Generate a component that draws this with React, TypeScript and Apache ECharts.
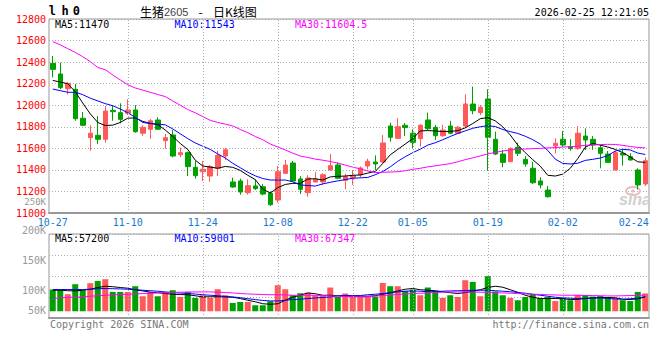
import React, { useEffect, useRef } from 'react';
import * as echarts from 'echarts';

const dates = [
  '10-27','10-28','10-29','10-30','10-31',
  '11-03','11-04','11-05','11-06','11-07','11-10','11-11','11-12','11-13','11-14',
  '11-17','11-18','11-19','11-20','11-21','11-24','11-25','11-26','11-27','11-28',
  '12-01','12-02','12-03','12-04','12-05','12-08','12-09','12-10','12-11','12-12',
  '12-15','12-16','12-17','12-18','12-19','12-22','12-23','12-24','12-25','12-26',
  '12-29','12-30','12-31',
  '01-05','01-06','01-07','01-08','01-09','01-12','01-13','01-14','01-15','01-16',
  '01-19','01-20','01-21','01-22','01-23','01-26','01-27','01-28','01-29','01-30',
  '02-02','02-03','02-04','02-05','02-06','02-09','02-10','02-11','02-12','02-13',
  '02-24','02-25'
];

const opens = [
  12389,12290,12153,12148,11879,11699,11721,11684,11953,11931,
  11925,11956,11740,11777,11863,11671,11724,11541,11560,11424,
  11383,11343,11415,11529,11288,11297,11189,11251,11244,11183,
  11121,11368,11464,11316,11189,11288,11288,11399,11445,11303,
  11328,11353,11436,11473,11473,11807,11693,11814,11740,11690,
  11863,11795,11717,11807,11740,11807,12011,11931,12058,11684,
  11547,11476,11609,11498,11415,11297,11213,11622,11684,11615,
  11600,11714,11684,11606,11547,11399,11554,11522,11399,11269
];
const closes = [
  12333,12163,12203,11875,11814,11740,11684,11946,11940,11869,
  11956,11754,11795,11856,11777,11699,11529,11560,11430,11346,
  11406,11430,11535,11587,11241,11195,11253,11226,11176,11077,
  11383,11445,11297,11220,11325,11313,11355,11439,11322,11337,
  11346,11418,11480,11455,11650,11702,11801,11792,11656,11814,
  11782,11717,11770,11740,11795,12011,11949,11981,11702,11547,
  11470,11600,11554,11455,11281,11260,11151,11647,11631,11597,
  11740,11677,11631,11554,11470,11560,11538,11492,11260,11485
];
const lows = [
  12259,12148,12101,11856,11807,11578,11640,11652,11856,11832,
  11909,11745,11717,11689,11770,11597,11517,11517,11343,11318,
  11297,11290,11343,11492,11235,11170,11170,11213,11164,11065,
  11096,11362,11288,11176,11151,11281,11260,11393,11313,11220,
  11260,11331,11406,11399,11461,11662,11687,11714,11603,11615,
  11770,11677,11708,11730,11733,11792,11916,11909,11393,11538,
  11424,11473,11529,11430,11269,11229,11142,11554,11615,11578,
  11585,11585,11585,11415,11467,11395,11439,11485,11220,11251
];
const highs = [
  12457,12395,12213,12197,11937,11814,11900,11993,12000,12018,
  12055,12002,11814,11872,11888,11733,11770,11606,11569,11483,
  11483,11445,11578,11603,11328,11318,11313,11313,11269,11201,
  11436,11492,11483,11343,11350,11380,11368,11547,11470,11365,
  11399,11433,11504,11535,11724,11838,11879,11835,11777,11826,
  11931,11817,11817,11854,11807,12101,12172,12000,12148,11754,
  11585,11606,11652,11529,11476,11331,11251,11693,11761,11684,
  11807,11786,11714,11631,11575,11578,11591,11554,11415,11517
];

const ma5 = [
  12230,12215,12200,12125,12020,11920,11840,11812,11815,11840,
  11880,11882,11850,11832,11820,11770,11710,11645,11590,11490,
  11436,11426,11415,11432,11424,11395,11350,11310,11222,11185,
  11235,11265,11275,11275,11315,11318,11306,11335,11340,11343,
  11350,11353,11370,11385,11460,11540,11590,11640,11690,11761,
  11765,11761,11756,11757,11764,11790,11830,11875,11885,11855,
  11800,11724,11630,11560,11495,11435,11350,11343,11360,11415,
  11505,11610,11645,11630,11612,11590,11560,11520,11475,11470
];
const ma10 = [
  12150,12135,12120,12120,12098,12065,12040,12015,11995,11965,
  11930,11888,11840,11830,11825,11818,11780,11735,11690,11650,
  11620,11590,11548,11510,11461,11420,11378,11345,11320,11306,
  11306,11306,11290,11260,11255,11250,11270,11285,11298,11310,
  11322,11326,11330,11355,11385,11428,11480,11522,11560,11592,
  11630,11652,11680,11710,11738,11762,11786,11800,11810,11802,
  11775,11755,11738,11712,11680,11640,11580,11500,11460,11455,
  11462,11488,11498,11510,11532,11575,11591,11585,11556,11543
];
const ma30 = [
  12590,12560,12525,12490,12450,12405,12350,12330,12280,12235,
  12190,12160,12140,12120,12100,12080,12040,12000,11960,11930,
  11895,11860,11840,11825,11808,11775,11745,11710,11680,11640,
  11612,11585,11555,11529,11515,11500,11490,11478,11462,11445,
  11425,11410,11390,11375,11378,11380,11383,11392,11405,11415,
  11428,11437,11448,11458,11475,11495,11512,11530,11548,11562,
  11575,11585,11590,11594,11597,11600,11604,11607,11612,11615,
  11620,11628,11632,11635,11637,11636,11628,11617,11608,11604.5
];

const volumes = [
  87200,87200,68300,108500,84400,112600,121800,128600,77600,77600,
  77600,100500,60300,76400,60300,77600,84400,57500,77600,53500,
  64300,53500,88400,64300,33400,37400,37400,24100,24100,40200,
  104500,88400,64300,72400,74400,64300,64300,95300,57500,71200,
  64300,57500,57500,57500,113800,100500,100500,81600,87200,64300,
  95300,81600,53500,64300,57500,124600,117800,60300,140700,79600,
  64300,53500,44200,57500,68300,53500,57500,41000,53500,44200,
  65500,65500,59100,61100,56300,52300,44200,41000,77600,71600
];
const volMa5 = [
  84400,84400,82400,81600,84400,88400,95300,100500,98500,95300,
  92500,86400,81600,76400,74400,71200,68300,67100,66300,62300,
  57500,58300,58300,57500,56300,51000,44200,38200,30200,28100,
  30200,44200,56300,64300,73600,70300,64300,64300,62300,60300,
  60300,60300,60300,62300,68300,74400,81600,88400,91300,86400,
  84400,82400,78400,74400,71200,75200,80400,86400,95300,100500,
  96500,86400,76400,64300,56300,51000,51000,51000,50300,47000,
  48200,51000,53100,55100,55100,54300,48200,47000,50300,57200
];
const volMa10 = [
  87200,87200,87200,87200,87200,88400,90500,91300,90500,89600,
  88400,86400,84400,82400,80400,77600,75200,73200,71200,69100,
  66300,64300,62300,59500,57500,54300,50300,47000,43400,41400,
  41400,44200,47000,48200,51000,53500,55100,57500,62300,63500,
  62300,63100,66300,68300,71200,74400,77600,80400,81600,80400,
  78400,78400,80400,81600,82400,83200,84400,84400,84400,82400,
  80400,78400,75200,72400,68300,64300,60300,56300,53500,52300,
  51000,52300,53100,53500,51500,49400,48200,50300,52300,59000
];
const volMa30 = [
  51000,54300,56300,56300,57500,60300,62300,64300,65500,67100,
  68300,69500,71200,72400,73600,74400,75200,76400,77200,77600,
  77600,77600,76400,75200,73600,71200,69500,68300,67100,66300,
  66300,65500,64300,64300,64300,64300,63100,61500,60300,59100,
  58300,57500,58300,60300,63100,65500,67100,69500,71200,72400,
  73600,75200,76400,77600,77600,77600,77200,76400,75600,74400,
  73600,72400,71200,69500,68300,67500,66300,65500,64300,64300,
  64300,63500,63100,62300,61500,61500,62300,63100,64000,65000
];

const labelDates = ['10-27','11-10','11-24','12-08','12-22','01-05','01-19','02-02','02-24'];
const gridDates = ['11-10','11-24','12-08','12-22','01-05','01-19','02-02'];
const volTickLabels = ['250K','200K','150K','100K','50K'];
const priceLegend = ['MA5:11470','MA10:11543','MA30:11604.5'];
const volLegend = ['MA5:57200','MA10:59001','MA30:67347'];
const titleName = '生猪';
const titleCode = '2605';
const titleKind = '日K线图';
const stamp = '2026-02-25 12:21:05';

const MONO = '"DejaVu Sans Mono", monospace';
const F10 = `10px ${MONO}`;
const RED = '#ff5a5a';
const GREEN = '#00a000';
const BLUE_AX = '#1a78cc';
const GRIDC = '#aaa';

function txt(x: number, y: number, text: string, fill: string, align = 'left', font = F10, extra: any = {}) {
  return {
    type: 'text', x, y, silent: true, z: 100,
    style: { text, fill, font, textAlign: align, align, textVerticalAlign: 'middle', verticalAlign: 'middle', ...extra },
  };
}

export default function App() {
  const ref = useRef<HTMLDivElement>(null);
  useEffect(() => {
    document.body.style.margin = '0';
    const chart = echarts.init(ref.current!, null, { renderer: 'svg' });
    const dotted = { color: GRIDC, type: [1, 2], width: 1 };
    const markLine = {
      silent: true, symbol: ['none', 'none'], label: { show: false }, animation: false,
      lineStyle: dotted, emphasis: { disabled: true },
      data: gridDates.map((d) => ({ xAxis: d })),
    };
    const legendX = [55, 174.5, 295];
    const legendC = ['#000', '#0000ff', '#ff00ff'];
    const volLabelY = [202, 230.7, 260.5, 290, 310.5];
    const volLabelFont = [`9px ${MONO}`, F10, F10, F10, F10];
    const option: any = {
      animation: false,
      textStyle: { fontFamily: MONO },
      grid: [
        { left: 49, top: 19, width: 600, height: 194, show: true, borderColor: '#999', borderWidth: 1 },
        { left: 49, top: 234, width: 600, height: 84, show: true, borderColor: '#999', borderWidth: 1 },
      ],
      xAxis: [
        {
          type: 'category', gridIndex: 0, data: dates, boundaryGap: true,
          axisLine: { show: true, lineStyle: { color: '#999', width: 2 } },
          axisTick: { show: false }, splitLine: { show: false },
          axisLabel: {
            interval: (i: number) => labelDates.indexOf(dates[i]) >= 0,
            formatter: (v: string) => (v === labelDates[labelDates.length - 1] ? `{e|${v}}` : v),
            color: BLUE_AX, fontFamily: MONO, fontSize: 10, margin: 4,
            rich: { e: { color: BLUE_AX, fontFamily: MONO, fontSize: 10, padding: [0, 8, 0, 0] } },
          },
        },
        {
          type: 'category', gridIndex: 1, data: dates, boundaryGap: true,
          axisLine: { show: true, lineStyle: { color: '#999', width: 2 } },
          axisTick: { show: false }, axisLabel: { show: false }, splitLine: { show: false },
        },
      ],
      yAxis: [
        {
          type: 'value', gridIndex: 0, min: 11000, max: 12800, interval: 200, position: 'left',
          axisLine: { show: false }, axisTick: { show: false },
          axisLabel: { color: '#ff0000', fontFamily: MONO, fontSize: 10, margin: 3, formatter: (v: number) => String(v) },
          splitLine: { show: true, lineStyle: dotted },
        },
        {
          type: 'value', gridIndex: 1, min: 0, max: 4, interval: 1, position: 'left',
          axisLine: { show: false }, axisTick: { show: false }, axisLabel: { show: false },
          splitLine: { show: true, lineStyle: dotted },
        },
        {
          type: 'value', gridIndex: 1, min: -27000, max: 310000, show: false,
          splitLine: { show: false },
        },
      ],
      series: [
        {
          type: 'candlestick', xAxisIndex: 0, yAxisIndex: 0, barWidth: 5, silent: true,
          data: dates.map((_, i) => [opens[i], closes[i], lows[i], highs[i]]),
          itemStyle: { color: RED, color0: GREEN, borderColor: RED, borderColor0: GREEN, borderWidth: 1 },
          markLine,
        },
        { type: 'line', xAxisIndex: 0, yAxisIndex: 0, data: ma5, symbol: 'none', silent: true, lineStyle: { color: '#000', width: 1 }, z: 3 },
        { type: 'line', xAxisIndex: 0, yAxisIndex: 0, data: ma10, symbol: 'none', silent: true, lineStyle: { color: '#0000ff', width: 1 }, z: 3 },
        { type: 'line', xAxisIndex: 0, yAxisIndex: 0, data: ma30, symbol: 'none', silent: true, lineStyle: { color: '#ff00ff', width: 1 }, z: 3 },
        {
          type: 'bar', xAxisIndex: 1, yAxisIndex: 2, barWidth: 6, silent: true,
          data: volumes.map((v, i) => ({ value: v, itemStyle: { color: closes[i] >= opens[i] ? RED : GREEN } })),
          markLine,
        },
        { type: 'line', xAxisIndex: 1, yAxisIndex: 2, data: volMa5, symbol: 'none', silent: true, lineStyle: { color: '#000', width: 1 }, z: 3 },
        { type: 'line', xAxisIndex: 1, yAxisIndex: 2, data: volMa10, symbol: 'none', silent: true, lineStyle: { color: '#0000ff', width: 1 }, z: 3 },
        { type: 'line', xAxisIndex: 1, yAxisIndex: 2, data: volMa30, symbol: 'none', silent: true, lineStyle: { color: '#ff00ff', width: 1 }, z: 3 },
      ],
      graphic: [
        txt(52.3, 11, 'l', '#000', 'center', `bold 12px ${MONO}`),
        txt(65, 11, 'h', '#000', 'center', `bold 12px ${MONO}`),
        txt(76.3, 11, '0', '#000', 'center', `bold 12px ${MONO}`),
        txt(140, 11.5, `{a|${titleName}}{b|${titleCode}}`, '#000', 'left', '12px "Noto Sans CJK SC"', {
          rich: {
            a: { font: '12px "Noto Sans CJK SC"', fill: '#000', color: '#000' },
            b: { font: '11px "Liberation Sans"', fill: '#444', color: '#444' },
          },
        }),
        txt(200.5, 11.5, '-', '#000', 'center', '12px "Noto Sans CJK SC"'),
        txt(213, 11.5, titleKind, '#000', 'left', '12px "Noto Sans CJK SC"'),
        txt(649, 12.3, stamp, '#000', 'right'),
        ...priceLegend.map((t, i) => txt(legendX[i], 24, t, legendC[i])),
        ...volLegend.map((t, i) => txt(legendX[i], 238.7, t, legendC[i])),
        ...volTickLabels.map((t, i) => txt(46, volLabelY[i], t, '#999', 'right', volLabelFont[i])),
        txt(50, 324, 'Copyright 2026 SINA.COM', '#777'),
        txt(649, 324, 'http://finance.sina.com.cn', '#777', 'right'),
        {
          type: 'ellipse', silent: true, z: 1,
          shape: { cx: 633, cy: 191, rx: 7, ry: 4 },
          style: { fill: 'none', stroke: '#ebbcbc', lineWidth: 2 },
        },
        {
          type: 'circle', silent: true, z: 1,
          shape: { cx: 633, cy: 191, r: 1.6 },
          style: { fill: '#ebbcbc' },
        },
        txt(619, 199.5, 'sina', '#d0d0d0', 'left', 'italic bold 16px "Liberation Sans"'),
      ],
    };
    chart.setOption(option);
    return () => chart.dispose();
  }, []);
  return <div ref={ref} style={{ width: 660, height: 360 }} />;
}
